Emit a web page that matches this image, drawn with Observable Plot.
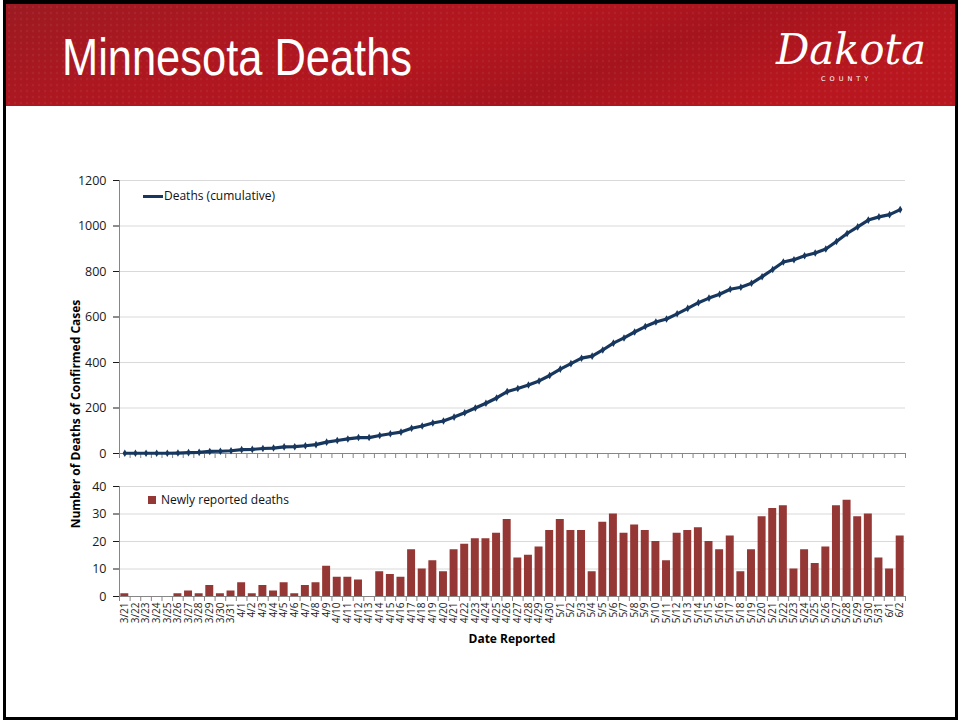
<!DOCTYPE html>
<html>
<head>
<meta charset="utf-8">
<script src="https://cdn.jsdelivr.net/npm/d3@7"></script>
<script src="https://cdn.jsdelivr.net/npm/@observablehq/plot@0.6"></script>
<style>
  html, body { margin: 0; padding: 0; background: #fff; }
  #page { position: relative; width: 960px; height: 721px; overflow: hidden; background: #fff; font-family: "Open Sans", sans-serif; }
  #frame { position: absolute; left: 3px; top: 0; width: 955px; height: 720px; box-sizing: border-box; border: 3px solid #000; border-top-width: 4px; }
  #header { position: absolute; left: 6px; top: 4px; }
  #top, #bottom { position: absolute; left: 0; }
  #top { top: 170px; }
  #bottom { top: 476px; }
  #bottom svg g[aria-label^="x-axis"] text { font-size: 10px; }
  .legend { position: absolute; font-size: 12px; color: #111; white-space: nowrap; line-height: 14px; }
  .ytitle { position: absolute; left: 75px; top: 414px; transform: translate(-50%, -50%) rotate(-90deg); font-weight: bold; font-size: 12px; white-space: nowrap; color: #000; }
  .xtitle { position: absolute; left: 512px; top: 638px; transform: translate(-50%, -50%); font-weight: bold; font-size: 12px; white-space: nowrap; color: #000; }
</style>
</head>
<body>
<div id="page">
  <svg id="header" width="949" height="102">
    <defs>
      <linearGradient id="hg" x1="0" x2="1" y1="0" y2="0.3">
        <stop offset="0" stop-color="#9c1a22"/>
        <stop offset="0.3" stop-color="#ad1720"/>
        <stop offset="0.55" stop-color="#b3161f"/>
        <stop offset="0.75" stop-color="#a5141d"/>
        <stop offset="1" stop-color="#b8171f"/>
      </linearGradient>
      <pattern id="dots" width="6" height="6" patternUnits="userSpaceOnUse">
        <circle cx="3" cy="3" r="1.2" fill="#ffffff" fill-opacity="0.05"/>
      </pattern>
    </defs>
    <rect width="949" height="102" fill="url(#hg)"/>
    <rect width="949" height="102" fill="url(#dots)"/>
    <text x="56" y="71" fill="#fff" font-family="'Liberation Sans Narrow','Arial Narrow','Liberation Sans',sans-serif" font-size="52" textLength="350" lengthAdjust="spacingAndGlyphs">Minnesota Deaths</text>
    <text x="770" y="60" fill="#fff" font-family="'DejaVu Serif',serif" font-style="italic" font-size="42" textLength="150" lengthAdjust="spacingAndGlyphs">Dakota</text>
    <text x="815" y="77" fill="#fff" font-family="'DejaVu Sans',sans-serif" font-size="6.5" letter-spacing="4">COUNTY</text>
  </svg>
  <div id="frame"></div>
  <div id="top"></div>
  <div id="bottom"></div>
  <div class="legend" style="left:143px; top:189px;"><span style="display:inline-block; width:20px; height:3px; background:#17375e; vertical-align:middle; margin-right:1px;"></span>Deaths (cumulative)</div>
  <div class="legend" style="left:148px; top:493px;"><span style="display:inline-block; width:8px; height:8px; background:#953735; vertical-align:middle; margin-right:5px; position:relative; top:-1px;"></span>Newly reported deaths</div>
  <div class="ytitle">Number of Deaths of Confirmed Cases</div>
  <div class="xtitle">Date Reported</div>
</div>
<script>
const dates = ["3/21","3/22","3/23","3/24","3/25","3/26","3/27","3/28","3/29","3/30","3/31",
  "4/1","4/2","4/3","4/4","4/5","4/6","4/7","4/8","4/9","4/10","4/11","4/12","4/13",
  "4/14","4/15","4/16","4/17","4/18","4/19","4/20","4/21","4/22","4/23","4/24","4/25","4/26","4/27","4/28","4/29","4/30",
  "5/1","5/2","5/3","5/4","5/5","5/6","5/7","5/8","5/9","5/10","5/11","5/12","5/13","5/14","5/15","5/16","5/17","5/18","5/19","5/20","5/21","5/22","5/23","5/24","5/25","5/26","5/27","5/28","5/29","5/30","5/31",
  "6/1","6/2"];

const newDeaths = [1,0,0,0,0,1,2,1,4,1,2,
  5,1,4,2,5,1,4,5,11,7,7,6,0,
  9,8,7,17,10,13,9,17,19,21,21,23,28,14,15,18,24,
  28,24,24,9,27,30,23,26,24,20,13,23,24,25,20,17,22,9,17,29,32,33,10,17,12,18,33,35,29,30,14,
  10,22];

const cumulativeDeaths = [1,1,1,1,1,2,4,5,9,10,12,
  17,18,22,24,29,30,34,39,50,57,64,70,70,
  79,87,94,111,121,134,143,160,179,200,221,244,272,286,301,319,343,
  371,395,419,428,455,485,508,534,558,578,591,614,638,663,683,700,722,731,748,777,809,842,852,869,881,899,932,967,996,1026,1040,
  1050,1072];

const topTicks = [0, 200, 400, 600, 800, 1000, 1200];
const bottomTicks = [0, 10, 20, 30, 40];

const cumData = dates.map((d, i) => ({date: d, value: cumulativeDeaths[i]}));
const newData = dates.map((d, i) => ({date: d, value: newDeaths[i]}));

const W = 960, ML = 119, MR = 55;
const step = (W - ML - MR) / dates.length;
const axisColor = "#868686";
const gridColor = "#d9d9d9";
const lineColor = "#17375e";
const barColor = "#953735";
const font = {fontFamily: "'Open Sans', sans-serif", fontSize: "12.5px", color: "#1a1a1a", background: "transparent", overflow: "visible"};

const xScale = {type: "band", domain: dates, paddingInner: 0.25, paddingOuter: 0.125};

function boundaryTicks(len) {
  return [
    Plot.ruleX(dates, {x: d => d, y1: 0, y2: 0, insetBottom: -len, dx: -step / 2, stroke: axisColor}),
    Plot.ruleX([dates[dates.length - 1]], {x: d => d, y1: 0, y2: 0, insetBottom: -len, dx: step / 2, stroke: axisColor})
  ];
}

const topPlot = Plot.plot({
  width: W, height: 293,
  marginTop: 10, marginBottom: 10, marginLeft: ML, marginRight: MR,
  style: font,
  x: {...xScale, axis: null},
  y: {domain: [0, 1200], ticks: topTicks, tickFormat: d => String(d), tickSize: 6, tickPadding: 7, label: null},
  marks: [
    Plot.ruleY(topTicks.filter(t => t > 0), {stroke: gridColor}),
    Plot.ruleY([0], {stroke: axisColor}),
    Plot.ruleX([dates[0]], {x: d => d, dx: -step / 2, stroke: axisColor}),
    ...boundaryTicks(5),
    Plot.line(cumData, {x: "date", y: "value", stroke: lineColor, strokeWidth: 3.2}),
    Plot.dot(cumData, {x: "date", y: "value", symbol: "diamond", r: 2.3, fill: lineColor})
  ]
});
document.getElementById("top").append(topPlot);

const bottomPlot = Plot.plot({
  width: W, height: 160,
  marginTop: 10, marginBottom: 40, marginLeft: ML, marginRight: MR,
  style: font,
  x: {...xScale, tickRotate: -90, tickSize: 0, tickPadding: 6, label: null},
  y: {domain: [0, 40], ticks: bottomTicks, tickFormat: d => String(d), tickSize: 6, tickPadding: 7, label: null},
  marks: [
    Plot.ruleY(bottomTicks.filter(t => t > 0), {stroke: gridColor}),
    Plot.barY(newData, {x: "date", y: "value", fill: barColor}),
    Plot.ruleY([0], {stroke: axisColor}),
    Plot.ruleX([dates[0]], {x: d => d, dx: -step / 2, stroke: axisColor}),
    ...boundaryTicks(5)
  ]
});
document.getElementById("bottom").append(bottomPlot);
</script>
</body>
</html>
